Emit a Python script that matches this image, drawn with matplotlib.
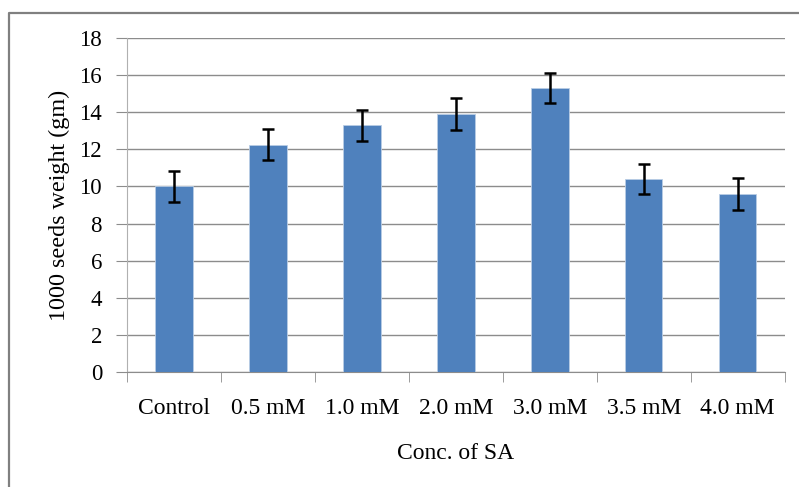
import matplotlib.pyplot as plt
from matplotlib.lines import Line2D
import numpy as np

categories = ['Control', '0.5 mM', '1.0 mM', '2.0 mM', '3.0 mM', '3.5 mM', '4.0 mM']
weights = [10.0, 12.25, 13.3, 13.9, 15.3, 10.4, 9.6]
errors = [0.82, 0.82, 0.84, 0.85, 0.82, 0.82, 0.85]
yticks = [0, 2, 4, 6, 8, 10, 12, 14, 16, 18]

plt.rcParams['font.family'] = ['Liberation Serif', 'DejaVu Serif']

fig = plt.figure(figsize=(7.99, 4.87), dpi=100)
ax = fig.add_axes([0.159, 0.236, 0.823, 0.686])

x = np.arange(len(categories))
ax.bar(x, weights, width=0.4, color='#4F81BD', edgecolor='#B9CDE5', linewidth=0.6, zorder=3)
ax.errorbar(x, weights, yerr=errors, fmt='none', ecolor='black', elinewidth=1.8,
            capsize=4.5, capthick=1.8, zorder=4)

ax.set_xlim(-0.5, len(categories) - 0.5)
ax.set_ylim(0, 18)
ax.set_yticks(yticks)
ax.yaxis.grid(True, color='#8C8C8C', linewidth=1.0, zorder=0)
ax.set_axisbelow(True)

# category labels centred, tick marks on the boundaries
ax.set_xticks(x)
ax.set_xticklabels(categories, fontsize=17)
ax.tick_params(axis='x', length=0, pad=19)
ax.set_xticks(np.arange(-0.5, len(categories)), minor=True)
ax.tick_params(axis='x', which='minor', length=7, color='#8C8C8C', direction='out')
ax.tick_params(axis='y', length=8, color='#8C8C8C', labelsize=16.5, pad=10)

for s in ['top', 'right']:
    ax.spines[s].set_visible(False)
ax.spines['left'].set_color('#B0B0B0')
ax.spines['bottom'].set_color('#8C8C8C')

ax.set_ylabel('1000 seeds weight (gm)', fontsize=17.4, labelpad=7)
ax.set_xlabel('Conc. of SA', fontsize=17, labelpad=17)

# outer frame of the chart (only left and top edges show)
fig.lines.append(Line2D([9 / 799, 9 / 799, 1.0], [0.0, 1 - 13 / 487, 1 - 13 / 487],
                        transform=fig.transFigure, color='#808080', linewidth=1.6))

fig.savefig('out.png', dpi=100)
